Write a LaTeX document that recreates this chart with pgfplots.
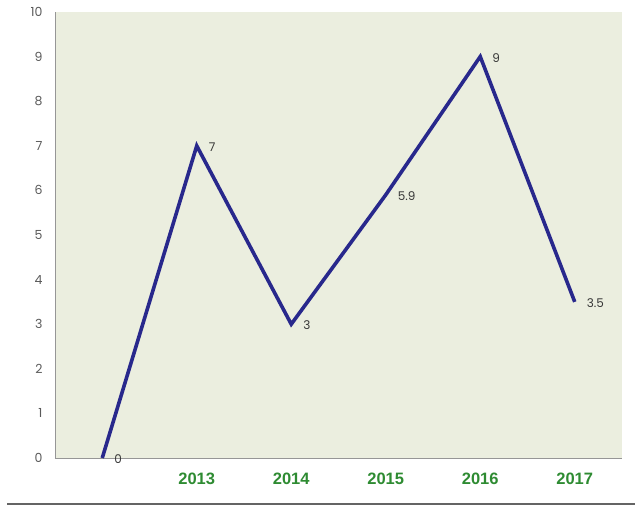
\documentclass[border=0pt]{standalone}
\usepackage{pgfplots}
\pgfplotsset{compat=1.18}
\usepackage{fontspec}
\setmainfont{Poppins}
\newfontfamily\arialfont{Liberation Sans}
\definecolor{bgc}{RGB}{235,238,223}
\definecolor{linec}{RGB}{40,40,140}
\definecolor{greenc}{RGB}{46,139,50}
\definecolor{axc}{RGB}{150,150,150}
\begin{document}
\begin{tikzpicture}[x=1pt,y=1pt]
\useasboundingbox (0,0) rectangle (635,506);
\draw[color={rgb,255:red,100;green,100;blue,100}, line width=1.5pt] (7,2) -- (635,2);
\begin{axis}[
  at={(55pt,48pt)}, anchor=south west,
  scale only axis, width=567pt, height=446pt,
  xmin=-0.5, xmax=5.5, ymin=0, ymax=10,
  axis x line*=bottom, axis y line*=left,
  axis line style={-, draw=axc, line width=0.9pt},
  axis background/.style={fill=bgc},
  tick style={draw=none},
  xtick={1,2,3,4,5},
  xticklabels={2013,2014,2015,2016,2017},
  xticklabel style={font=\arialfont\bfseries\fontsize{16.5}{18}\selectfont, text=greenc, yshift=-11pt},
  ytick={0,1,...,10},
  yticklabel style={font=\fontsize{12.5}{14}\selectfont, text={rgb,255:red,90;green,90;blue,90}, xshift=-9pt},
  /pgf/number format/assume math mode=true,
  clip=false,
]
\addplot[color=linec, line width=3.6pt, line join=miter,
  nodes near coords, point meta=explicit symbolic,
  every node near coord/.style={anchor=west, xshift=7pt, yshift=-1pt, font=\fontsize{12}{14}\selectfont, text={rgb,255:red,55;green,55;blue,55}}]
  table[meta=lab] {
x y lab
0 0 0
1 7 7
2 3 3
3 5.9 5.9
4 9 9
5 3.5 3.5
};
\end{axis}
\end{tikzpicture}
\end{document}
